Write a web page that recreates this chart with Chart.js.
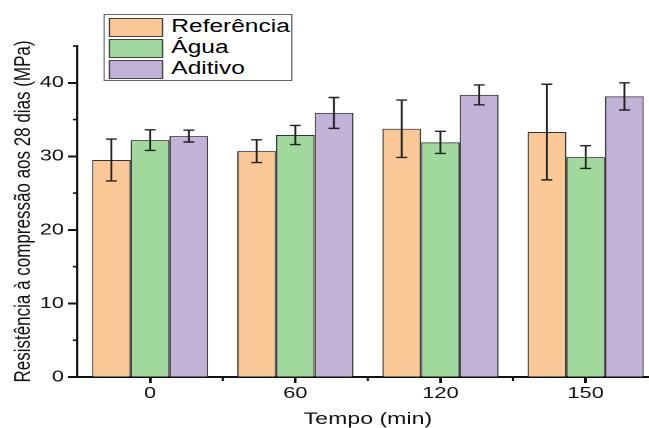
<!DOCTYPE html>
<html>
<head>
<meta charset="utf-8">
<script src="https://cdn.jsdelivr.net/npm/chart.js@4/dist/chart.umd.min.js"></script>
<style>
    html, body { margin: 0; padding: 0; background: #fff; overflow: hidden; }
    #wrap {
        position: relative; width: 484px; height: 428px;
        transform: scaleX(1.36); transform-origin: 0 0;
    }
    #legend {
        position: absolute; left: 76px; top: 14px; width: 137px; height: 65px;
        border: 1px solid #666; background: #fff;
        font-family: 'Liberation Sans', Arial, sans-serif; font-size: 18px; color: #000;
    }
    .row { position: absolute; left: 3px; height: 19px; }
    .sw { position: absolute; left: 0; top: 0; width: 38px; height: 17px; border: 1px solid #444; }
    .lbl { position: absolute; left: 46px; top: -2px; white-space: nowrap; line-height: 20px; }
</style>
</head>
<body>
<div id="wrap">
    <canvas id="chart" width="484" height="428"></canvas>
    <div id="legend"></div>
</div>
<script>
// Data
const tempos = ['0', '60', '120', '150'];
const referencia = [29.5, 30.7, 33.75, 33.3];
const referenciaErr = [2.85, 1.55, 3.9, 6.5];
const agua = [32.2, 32.9, 31.9, 29.9];
const aguaErr = [1.4, 1.3, 1.5, 1.55];
const aditivo = [32.75, 35.9, 38.35, 38.15];
const aditivoErr = [0.8, 2.1, 1.35, 1.85];

const seriesNames = ['Referência', 'Água', 'Aditivo'];
const seriesColors = ['#FAC896', '#A0D89E', '#C3B2D7'];
const yMajor = [0, 10, 20, 30, 40];
const yMinor = [5, 15, 25, 35, 45];

const font = 'Liberation Sans';
const ink = '#111';

// error bars + minor ticks, drawn through the scales
const extras = {
    id: 'extras',
    afterDatasetsDraw(chart) {
        const ctx = chart.ctx;
        const y = chart.scales.y;
        ctx.save();
        ctx.strokeStyle = '#222';
        ctx.lineWidth = 1.4;
        chart.data.datasets.forEach((ds, di) => {
            const meta = chart.getDatasetMeta(di);
            meta.data.forEach((bar, i) => {
                const v = ds.data[i], e = ds.errors[i];
                const top = y.getPixelForValue(v + e);
                const bot = y.getPixelForValue(v - e);
                ctx.beginPath();
                ctx.moveTo(bar.x, top); ctx.lineTo(bar.x, bot);
                ctx.moveTo(bar.x - 4, top); ctx.lineTo(bar.x + 4, top);
                ctx.moveTo(bar.x - 4, bot); ctx.lineTo(bar.x + 4, bot);
                ctx.stroke();
            });
        });
        ctx.restore();
    },
    afterDraw(chart) {
        const ctx = chart.ctx;
        const {x, y} = chart.scales;
        const area = chart.chartArea;
        ctx.save();
        ctx.strokeStyle = ink;
        ctx.lineWidth = 1.6;
        yMinor.forEach(v => {
            const py = y.getPixelForValue(v);
            ctx.beginPath(); ctx.moveTo(area.left - 3.5, py); ctx.lineTo(area.left, py); ctx.stroke();
        });
        for (let i = 0; i < tempos.length - 1; i++) {
            const px = (x.getPixelForValue(i) + x.getPixelForValue(i + 1)) / 2;
            ctx.beginPath(); ctx.moveTo(px, area.bottom); ctx.lineTo(px, area.bottom + 4); ctx.stroke();
        }
        ctx.restore();
    }
};

const ctx = document.getElementById('chart').getContext('2d');
const chart = new Chart(ctx, {
    type: 'bar',
    data: {
        labels: tempos,
        datasets: [
            { label: seriesNames[0], data: referencia, errors: referenciaErr, backgroundColor: seriesColors[0] },
            { label: seriesNames[1], data: agua, errors: aguaErr, backgroundColor: seriesColors[1] },
            { label: seriesNames[2], data: aditivo, errors: aditivoErr, backgroundColor: seriesColors[2] }
        ].map(d => Object.assign(d, {
            borderColor: '#333', borderWidth: 1, borderSkipped: 'bottom',
            categoryPercentage: 0.8, barPercentage: 1.0
        }))
    },
    options: {
        responsive: false,
        animation: false,
        devicePixelRatio: 2,
        layout: { padding: { top: 46, left: 0, right: 0, bottom: 0 } },
        plugins: { legend: { display: false }, tooltip: { enabled: false } },
        scales: {
            x: {
                offset: true,
                grid: { offset: false, drawOnChartArea: false, tickLength: 6, tickWidth: 2, tickColor: ink },
                border: { color: ink, width: 2 },
                ticks: { color: ink, padding: 1, font: { family: font, size: 16 } },
                title: { display: true, text: 'Tempo (min)', color: ink,
                         font: { family: font, size: 17, lineHeight: 1 }, padding: { top: 0, bottom: 0 } },
                afterFit(scale) { scale.height = 51; }
            },
            y: {
                min: 0, max: 45,
                afterBuildTicks(scale) { scale.ticks = yMajor.map(v => ({ value: v })); },
                grid: { drawOnChartArea: false, tickLength: 7, tickWidth: 2, tickColor: ink },
                border: { color: ink, width: 1.6 },
                ticks: { color: ink, padding: 3, font: { family: font, size: 16 } },
                title: { display: true, text: 'Resistência à compressão aos 28 dias (MPa)', color: ink,
                         font: { family: font, size: 17 }, padding: { top: 7, bottom: 0 } },
                afterFit(scale) { scale.width = 57; }
            }
        }
    },
    plugins: [extras]
});

// legend box from the same series arrays
const legend = document.getElementById('legend');
legend.innerHTML = seriesNames.map((name, i) =>
    `<div class="row" style="top:${3 + i * 21}px">
        <div class="sw" style="background:${seriesColors[i]}"></div>
        <div class="lbl">${name}</div>
    </div>`).join('');
</script>
</body>
</html>
